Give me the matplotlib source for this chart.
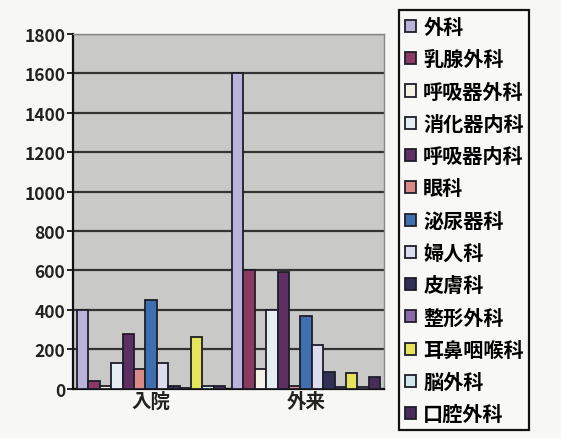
import matplotlib
matplotlib.use("Agg")
import matplotlib.pyplot as plt
import numpy as np

plt.rcParams['font.family'] = ['Noto Sans CJK JP', 'DejaVu Sans']

# categories on the x axis
categories = ["入院", "外来"]

# departments (series), in legend order
departments = ["外科", "乳腺外科", "呼吸器外科", "消化器内科", "呼吸器内科", "眼科",
               "泌尿器科", "婦人科", "皮膚科", "整形外科", "耳鼻咽喉科", "脳外科", "口腔外科"]

# values: [入院, 外来]
inpatient = [400, 40, 15, 130, 280, 100, 450, 130, 15, 5, 265, 15, 15]
outpatient = [1600, 600, 100, 400, 590, 15, 370, 220, 85, 10, 80, 10, 60]

# washed-out photo colours of the classic office palette
colors = ["#b9b3dc", "#8a3a63", "#f4f1e6", "#e4eef2", "#5e2f63", "#d98a86",
          "#3f6fae", "#dcdcef", "#2f2f57", "#8a6aa6", "#e6e45a", "#cfe9ea", "#4a2c5c"]

y_ticks = np.arange(0, 1801, 200)

fig = plt.figure(figsize=(5.61, 4.39), dpi=100)
fig.patch.set_facecolor("#f7f7f5")
ax = fig.add_axes([0.131, 0.112, 0.553, 0.809])
ax.set_facecolor("#c9c9c7")

n = len(departments)
group_w = 0.955
bw = group_w / n
x = np.arange(len(categories))
for i, dep in enumerate(departments):
    vals = [inpatient[i], outpatient[i]]
    pos = x - group_w / 2 + bw * (i + 0.5)
    ax.bar(pos, vals, width=bw, color=colors[i], edgecolor="#1e1e2a",
           linewidth=1.3, label=dep, zorder=3)

ax.set_xlim(-0.5, 1.5)
ax.set_ylim(0, 1800)
ax.set_yticks(y_ticks)
ax.set_yticklabels([str(v) for v in y_ticks], fontsize=12.5, fontweight="bold",
                   color="#222222")
ax.set_xticks(x)
ax.set_xticklabels(categories, fontsize=14, fontweight="bold", color="#222222")
ax.tick_params(axis="x", length=0, pad=2)
ax.tick_params(axis="y", length=4, width=1.2, direction="out", pad=2)
ax.yaxis.grid(True, color="#333333", linewidth=1.6, zorder=1)
ax.set_axisbelow(True)
for side in ["top", "right"]:
    ax.spines[side].set_color("#888888")
    ax.spines[side].set_linewidth(1.0)
for side in ["left", "bottom"]:
    ax.spines[side].set_color("#111111")
    ax.spines[side].set_linewidth(1.6)

leg = fig.legend(loc="upper left", bbox_to_anchor=(0.712, 0.974),
                 prop={"size": 14.5, "weight": "bold"}, handlelength=0.55,
                 handleheight=0.55, handletextpad=0.35, labelspacing=0.56,
                 borderpad=0.28, borderaxespad=0, fancybox=False,
                 edgecolor="#111111", facecolor="#f8f8f6", framealpha=1)
leg.get_frame().set_linewidth(1.6)

fig.savefig("out.png", dpi=100, facecolor=fig.get_facecolor())
